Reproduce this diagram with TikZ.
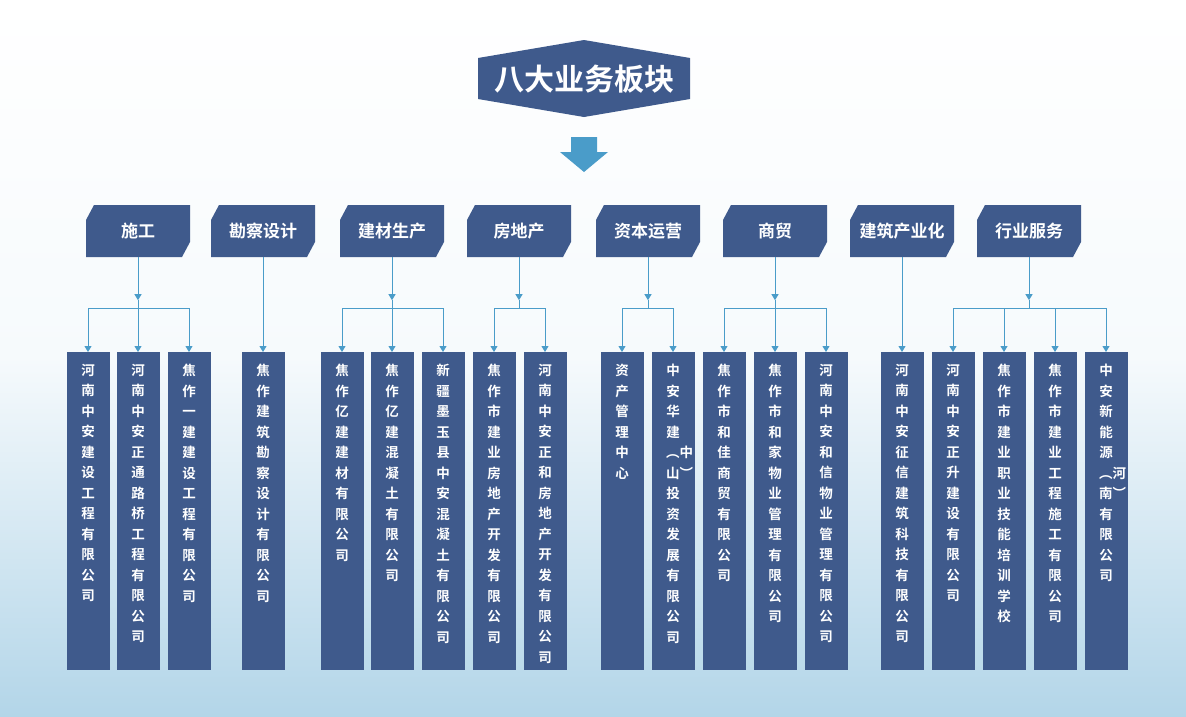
\documentclass[tikz,border=0pt]{standalone}
\usepackage{fontspec}
\setmainfont{Noto Sans CJK SC}[BoldFont={* Bold}]
\XeTeXlinebreaklocale "zh"
\XeTeXlinebreakskip=0pt plus 1pt
\usetikzlibrary{arrows.meta}
\definecolor{boxblue}{RGB}{63,90,140}
\definecolor{lineblue}{RGB}{74,156,201}
\tikzset{
  catbox/.style={text=white,font=\bfseries\fontsize{17}{20}\selectfont},
  leafbox/.style={fill=boxblue,minimum width=43pt,minimum height=318pt,anchor=north},
  leaftext/.style={text=white,font=\bfseries\fontsize{13.5}{20.5}\selectfont,text width=14pt,align=center,anchor=north,inner sep=0pt},
  conn/.style={draw=lineblue,line width=1pt},
  tip/.style={-{Triangle[width=7pt,length=6pt]}}
}
\begin{document}
\begin{tikzpicture}[x=1pt,y=1pt,yscale=-1]
    % background
    \shade[top color=white,bottom color=white!40!lineblue!70!white,middle color=white!95!lineblue] (0,0) rectangle (1186,716);
    \useasboundingbox (0,0) rectangle (1186,716);
    % title
    \draw[fill=boxblue,draw=none] (478,58) -- (584,40) -- (690,58) -- (690,99) -- (584,117) -- (478,99) -- cycle;
    \node[text=white,font=\bfseries\fontsize{30}{34}\selectfont] (title) at (584,79) {八大业务板块};
    \fill[lineblue] (571,137) -- (597,137) -- (597,152) -- (608,152) -- (584,172) -- (560,152) -- (571,152) -- cycle;
    % categories
    \foreach \cx/\name/\t in {138/c1/施工,263/c2/勘察设计,392/c3/建材生产,519/c4/房地产,648/c5/资本运营,775/c6/商贸,902/c7/建筑产业化,1029/c8/行业服务}{
        \fill[boxblue] (\cx-52,220) -- (\cx-44,205) -- (\cx+52,205) -- (\cx+52,242) -- (\cx+44,257) -- (\cx-52,257) -- cycle;
        \node[catbox,minimum height=52pt,inner sep=0pt] (\name) at (\cx,231) {\t};
    }
    % companies
    \foreach \lx/\name/\t in {88/l1/河南中安建设工程有限公司,138/l2/河南中安正通路桥工程有限公司,189/l3/焦作一建建设工程有限公司,
        263/l4/焦作建筑勘察设计有限公司,342/l5/焦作亿建建材有限公司,392/l6/焦作亿建混凝土有限公司,443/l7/新疆墨玉县中安混凝土有限公司,
        494/l8/焦作市建业房地产开发有限公司,545/l9/河南中安正和房地产开发有限公司,622/l10/资产管理中心,673/l11/中安华建︵中山︶投资发展有限公司,
        724/l12/焦作市和佳商贸有限公司,775/l13/焦作市和家物业管理有限公司,826/l14/河南中安和信物业管理有限公司,
        902/l15/河南中安征信建筑科技有限公司,953/l16/河南中安正升建设有限公司,1004/l17/焦作市建业职业技能培训学校,
        1055/l18/焦作市建业工程施工有限公司,1106/l19/中安新能源︵河南︶有限公司}{
        \node[leafbox] (\name) at (\lx,352) {};
        \node[leaftext] at (\lx,364) {\t};
    }
    % connectors
    \foreach \c/\a/\b in {c1/l1/l3,c3/l5/l7,c4/l8/l9,c5/l10/l11,c6/l12/l14,c8/l15/l19}{
        \draw[conn,tip] (\c.south) -- ++(0,43);
    }
    \foreach \c/\a/\b in {c1/l1/l3,c3/l5/l7,c4/l8/l9,c5/l10/l11,c6/l12/l14}{
        \draw[conn] (\a.north |- 0,308) -- (\b.north |- 0,308);
        \draw[conn] (\c.south |- 0,300) -- (\c.south |- 0,308);
    }
    \draw[conn] (l16.north |- 0,308) -- (l19.north |- 0,308);
    \draw[conn] (c8.south |- 0,300) -- (c8.south |- 0,308);
    \foreach \l in {l1,l2,l3,l5,l6,l7,l8,l9,l10,l11,l12,l13,l14,l16,l17,l18,l19}{
        \draw[conn,tip] (\l.north |- 0,308) -- (\l.north);
    }
    \draw[conn,tip] (c2.south) -- (l4.north);
    \draw[conn,tip] (c7.south) -- (l15.north);
\end{tikzpicture}
\end{document}
